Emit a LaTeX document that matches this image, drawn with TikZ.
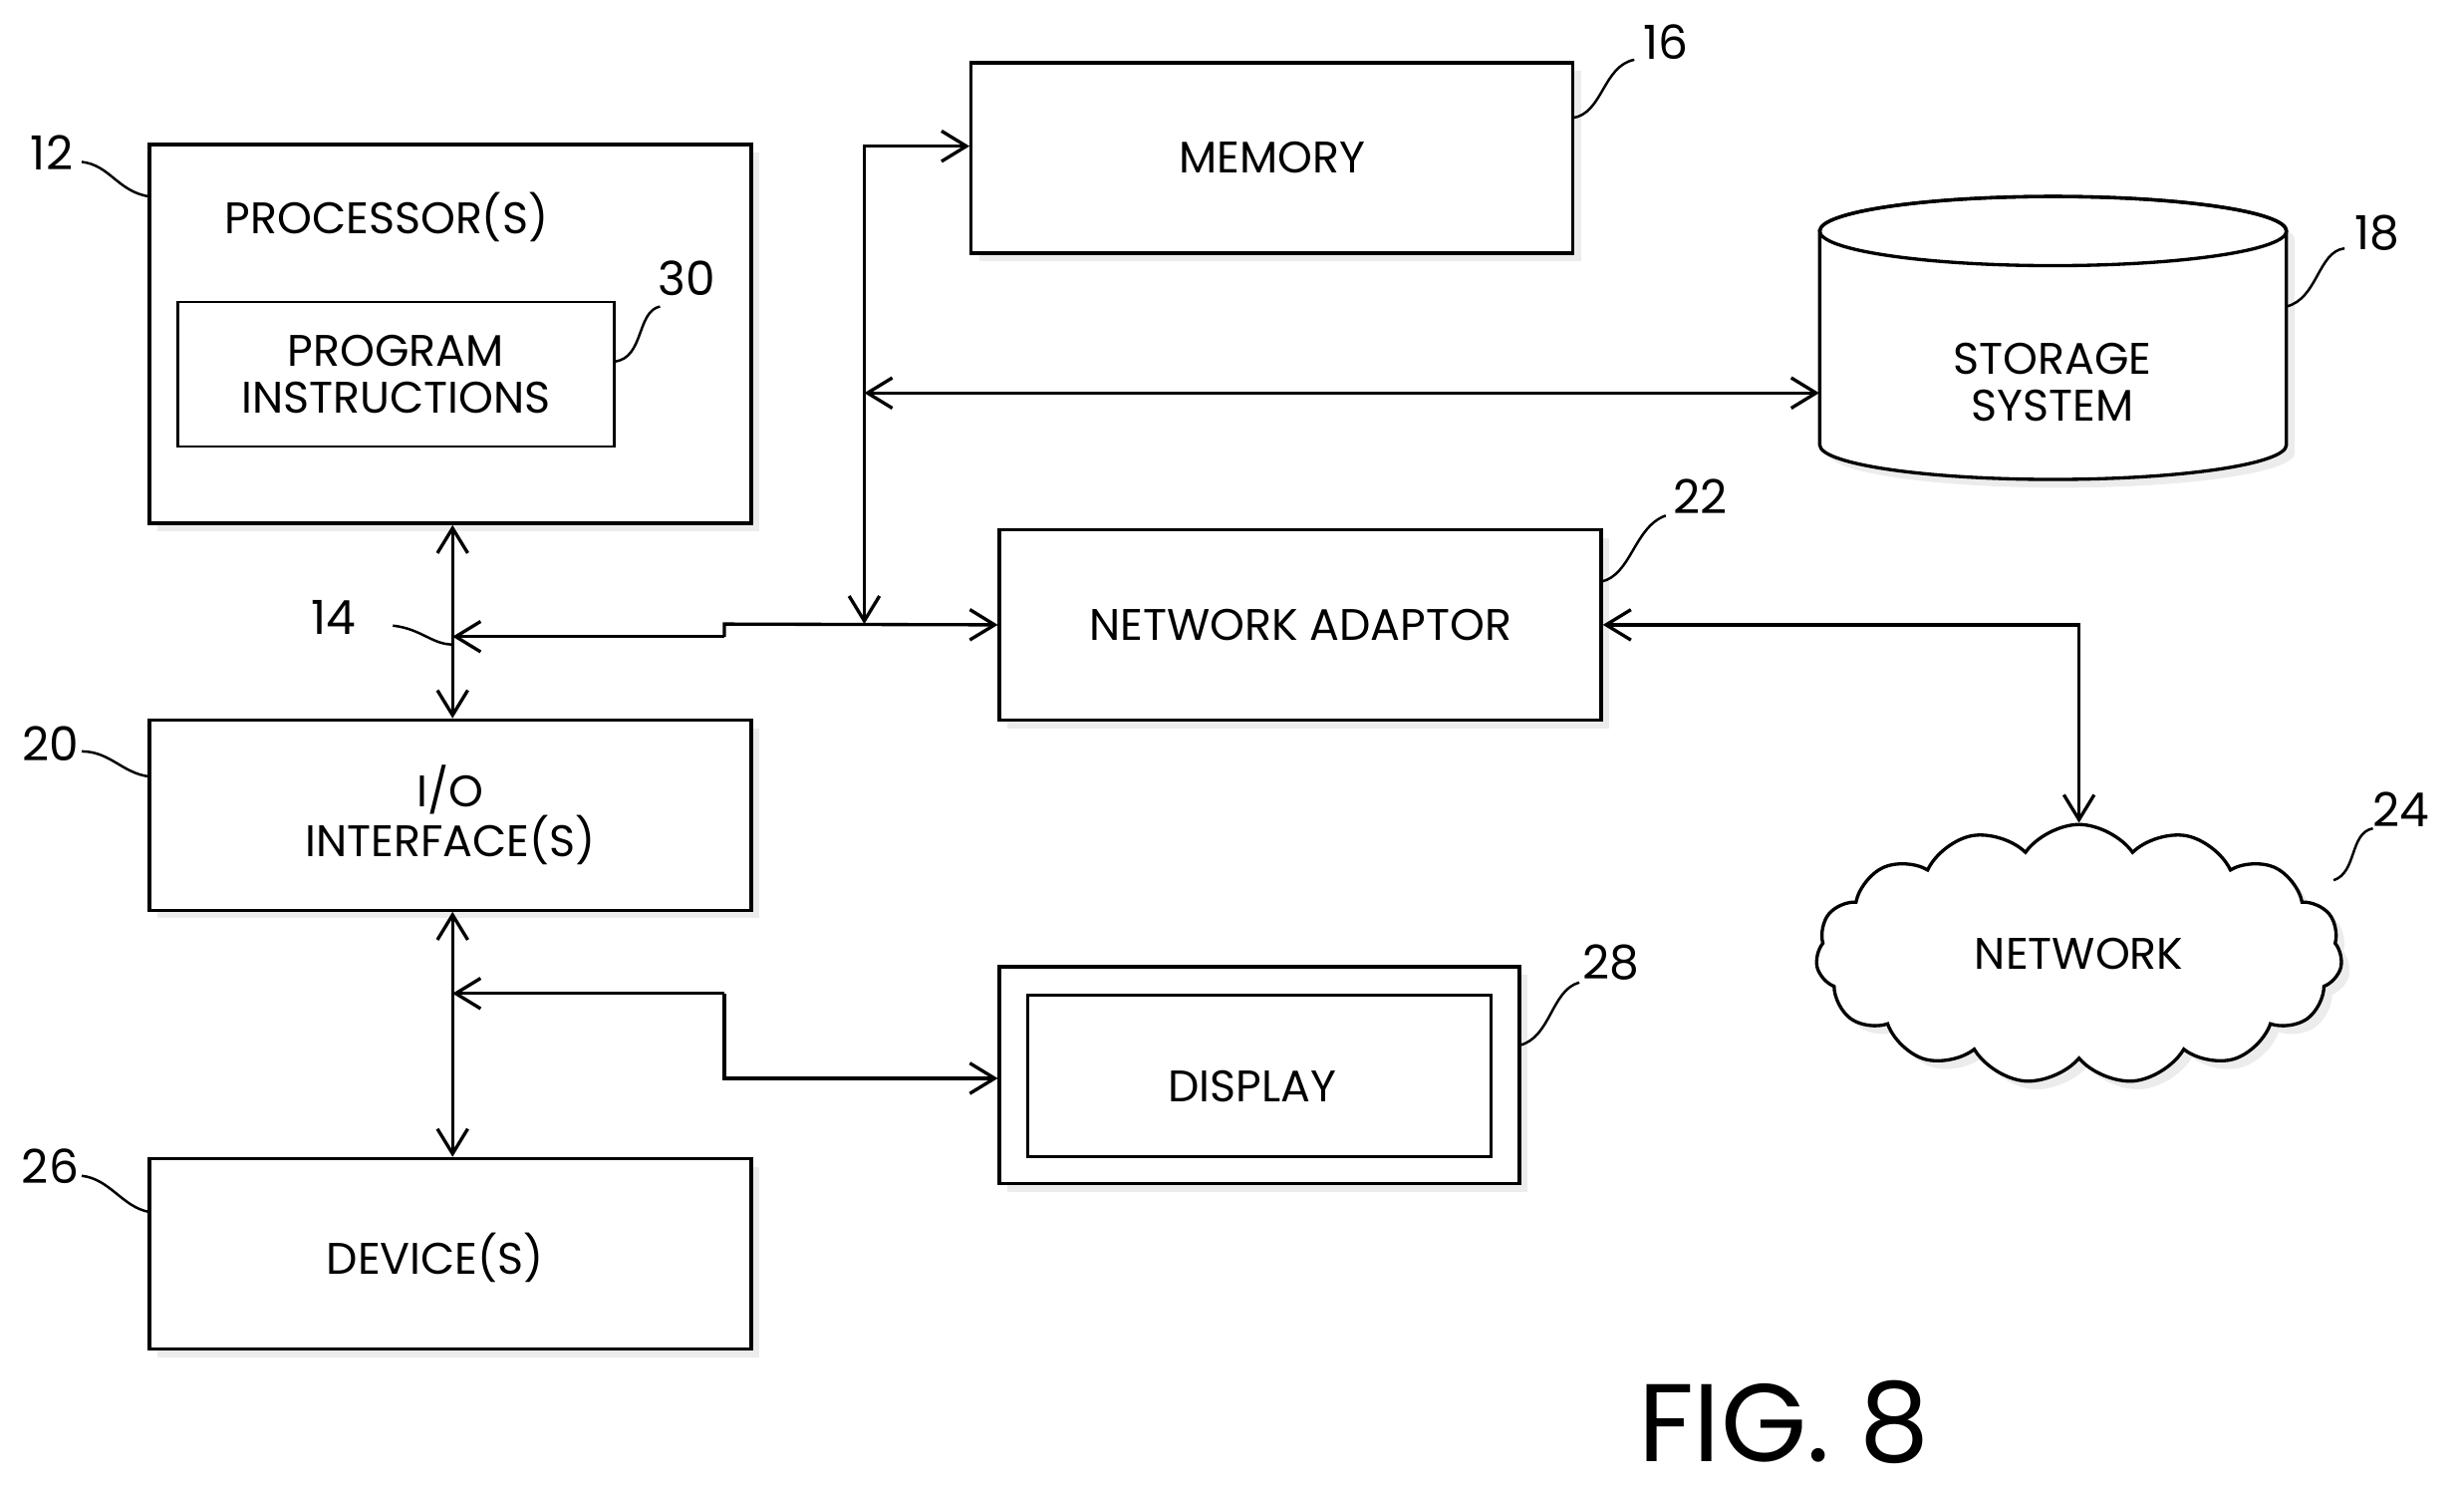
\documentclass[tikz,border=0pt]{standalone}
\usepackage{fontspec}
\setmainfont{Poppins}
\usetikzlibrary{arrows.meta,shapes.symbols,shadows}
\begin{document}
\begin{tikzpicture}[x=0.02cm,y=-0.02cm,
  every node/.style={font=\fontsize{16}{19}\selectfont},
  box/.style={draw,line width=1.2pt,fill=white,inner sep=0pt,align=center,drop shadow={shadow xshift=3pt,shadow yshift=-3pt,opacity=0.15}},
  ar/.style={line width=1.2pt,-{Straight Barb[length=9pt,width=11pt]}},
  lr/.style={line width=1.2pt,{Straight Barb[length=9pt,width=11pt]}-{Straight Barb[length=9pt,width=11pt]}},
  lead/.style={line width=0.9pt},
  lab/.style={font=\fontsize{17}{20}\selectfont}]
\useasboundingbox (0,0) rectangle (1568,952);
% boxes
\node[box,minimum width=7.66cm,minimum height=4.82cm] (proc) at (286.5,212.5) {};
\node (proct) at (246,138) {PROCESSOR(S)};
\node[draw,line width=0.9pt,minimum width=5.56cm,minimum height=1.84cm,align=center,inner sep=0pt] (prog) at (252,238) {PROGRAM\\[-2pt]INSTRUCTIONS};
\node[box,minimum width=7.66cm,minimum height=2.42cm] (mem) at (809.5,100.5) {MEMORY};
\node[box,minimum width=7.66cm,minimum height=2.42cm] (na) at (827.5,397.5) {NETWORK ADAPTOR};
\node[box,minimum width=7.66cm,minimum height=2.42cm] (io) at (286.5,518.5) {I/O\\[-1pt]INTERFACE(S)};
\node[box,minimum width=7.66cm,minimum height=2.42cm] (dev) at (286.5,797.5) {};
\node at (277,800) {DEVICE(S)};
\node[box,minimum width=6.62cm,minimum height=2.76cm] (disp) at (801.5,684) {};
\node[draw,line width=1.2pt,minimum width=5.9cm,minimum height=2.06cm] (dispi) at (801.5,684.5) {};
\node at (797,691) {DISPLAY};
% storage cylinder
\draw[line width=1.2pt,fill=white,drop shadow={shadow xshift=3pt,shadow yshift=-3pt,opacity=0.15}] (1158,147) -- (1158,283) arc[start angle=180,end angle=0,x radius=148.5,y radius=22] -- (1455,147) arc[start angle=0,end angle=-180,x radius=148.5,y radius=22] -- cycle;
\draw[line width=1.2pt] (1306.5,147) ellipse[x radius=148.5,y radius=22];
\node[minimum width=5.94cm,minimum height=1cm,inner sep=0pt] (stor) at (1306.5,250) {};
\node[align=center] at (1306,243) {STORAGE\\[-2pt]SYSTEM};
% cloud
\node[cloud,draw,line width=1.2pt,cloud puffs=15,cloud puff arc=110,aspect=2.1,minimum width=6.7cm,minimum height=3.3cm,fill=white,drop shadow={shadow xshift=3pt,shadow yshift=-3pt,opacity=0.15}] (net) at (1323,607) {NETWORK};
% connectors
\coordinate (b14) at (288,405);
\coordinate (bt) at (550,93);
\coordinate (bb) at (550,397);
\coordinate (bm) at (550,250);
\coordinate (s1) at (461,405);
\coordinate (s2) at (461,397);
\coordinate (d14) at (288,632);
\coordinate (e1) at (461,632);
\coordinate (e2) at (461,686);
\draw[lr] (proc.south -| b14) -- (io.north -| b14);
\draw[ar] (s1) -- (b14);
\draw[ar] (s1) -- (s2) -- (na.west);
\draw[ar] (bm) -- (bb);
\draw[ar] (bm) -- (bt) -- (mem.west |- bt);
\draw[lr] (bm) -- (stor.west);
\draw[lr] (na.east) -| (net.north);
\draw[lr] (io.south -| d14) -- (dev.north -| d14);
\draw[ar] (e1) -- (d14);
\draw[ar] (e1) -- (e2) -- (disp.west |- e2);
% labels
\node[lab] (l12) at (33,97) {12};
\draw[lead] (52,103) .. controls (70,105) and (75,122) .. (95,125);
\node[lab] (l30) at (437,177) {30};
\draw[lead] (391,230) .. controls (410,228) and (405,198) .. (420,195);
\node[lab] (l16) at (1060,27) {16};
\draw[lead] (1001,75) .. controls (1020,72) and (1020,42) .. (1040,38);
\node[lab] (l18) at (1513,148) {18};
\draw[lead] (1455,195) .. controls (1475,190) and (1475,160) .. (1492,158);
\node[lab] (l22) at (1082,316) {22};
\draw[lead] (1019,370) .. controls (1038,366) and (1040,335) .. (1060,328);
\node[lab] (l14) at (212,393) {14};
\draw[lead] (250,398) .. controls (268,400) and (275,410) .. (288,410);
\node[lab] (l20) at (32,473) {20};
\draw[lead] (52,478) .. controls (70,478) and (78,492) .. (95,494);
\node[lab] (l26) at (32,742) {26};
\draw[lead] (52,748) .. controls (70,750) and (78,768) .. (95,771);
\node[lab] (l28) at (1025,612) {28};
\draw[lead] (967,665) .. controls (987,660) and (987,630) .. (1005,625);
\node[lab] (l24) at (1528,515) {24};
\draw[lead] (1485,560) .. controls (1500,555) and (1495,530) .. (1510,527);
\node[font=\fontsize{40}{46}\selectfont] (fig) at (1135,905) {FIG. 8};
\end{tikzpicture}
\end{document}
